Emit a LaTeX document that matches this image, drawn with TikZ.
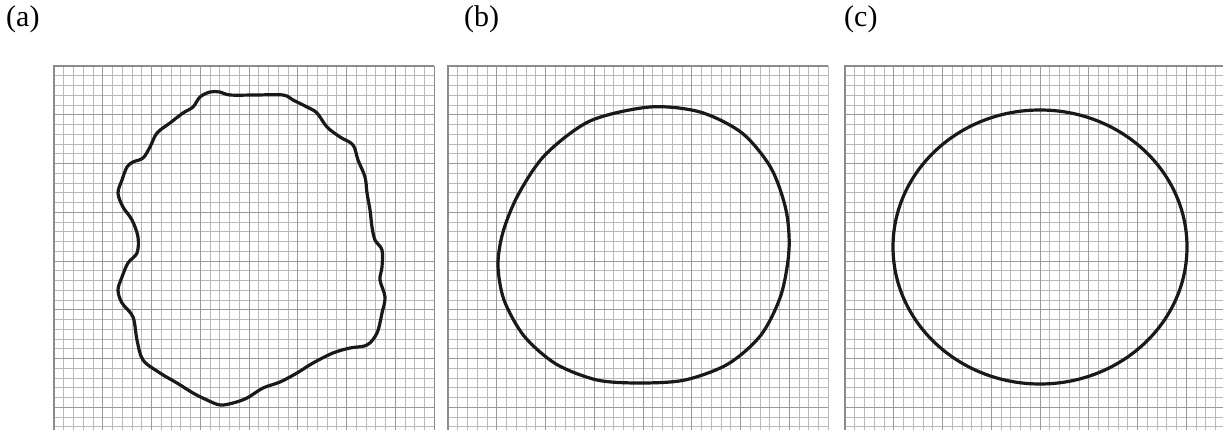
\documentclass[tikz,border=0pt]{standalone}
\usepackage{fontspec}
\setmainfont{Liberation Serif}
\begin{document}
\begin{tikzpicture}[x=1pt,y=-1pt,
  minorline/.style={gray!55,line width=0.8pt},
  majorline/.style={gray!80,line width=0.9pt},
  borderline/.style={gray!90,line width=1.3pt},
  contour/.style={black!90,line width=3.2pt,line join=round},
  lab/.style={anchor=base west,inner sep=0pt,font=\fontsize{30}{32}\selectfont}]
\useasboundingbox (0,0) rectangle (1223,430);
\foreach \xo/\nm in {54/A,448/B,845/C}{
  \begin{scope}
    \clip (\xo-1,65) rectangle (\xo+381,430);
    \fill[white] (\xo,66) rectangle (\xo+380,430);
    \foreach \i in {0,...,39}{\draw[minorline] (\xo+\i*9.75,66) -- (\xo+\i*9.75,430);}
    \foreach \j in {0,...,37}{\draw[minorline] (\xo,66+\j*9.75) -- (\xo+380,66+\j*9.75);}
    \foreach \i in {0,5,...,35}{\draw[majorline] (\xo+\i*9.75,66) -- (\xo+\i*9.75,430);}
    \foreach \j in {0,5,...,35}{\draw[majorline] (\xo,66+\j*9.75) -- (\xo+380,66+\j*9.75);}
    \draw[borderline] (\xo,430) -- (\xo,66) -- (\xo+380,66);
  \end{scope}
}
\draw[borderline] (434.25,66) -- (434.25,430);
% (a) irregular contour
\draw[contour] plot[smooth cycle,tension=0.55] coordinates {
(200,97) (210,92) (220,92) (230,95) (256,95) (283,95) (293,100) (307,107) (317,113)
(327,127) (340,137) (353,145) (358,160) (365,177) (367,193) (370,210) (372,227)
(375,240) (382,250) (382,267) (380,280) (385,297) (382,313) (377,333) (367,345)
(350,348) (333,353) (313,363) (297,373) (280,382) (263,388) (247,398) (233,403)
(220,405) (207,400) (193,393) (177,383) (160,373) (143,360) (137,340) (133,317)
(122,303) (118,290) (122,277) (128,263) (137,253) (138,237) (132,220) (123,207)
(118,193) (122,180) (127,167) (133,162) (143,158) (150,147) (157,133) (170,123)
(183,113) (193,107)};
% (b) nearly round contour
\draw[contour] plot[smooth cycle,tension=0.5] coordinates {
(650,107) (700,112) (742,133) (771,168) (786,210) (789,250) (781,295) (761,335)
(728,364) (685,380) (640,383) (597,380) (556,364) (524,336) (504,300) (498,265)
(503,232) (518,195) (545,155) (590,121)};
% (c) circle
\draw[contour] (1040,247) ellipse[x radius=147,y radius=137];
\node[lab] (la) at (6,27) {(a)};
\node[lab] (lb) at (464,27) {(b)};
\node[lab] (lc) at (844,27) {(c)};
\end{tikzpicture}
\end{document}
